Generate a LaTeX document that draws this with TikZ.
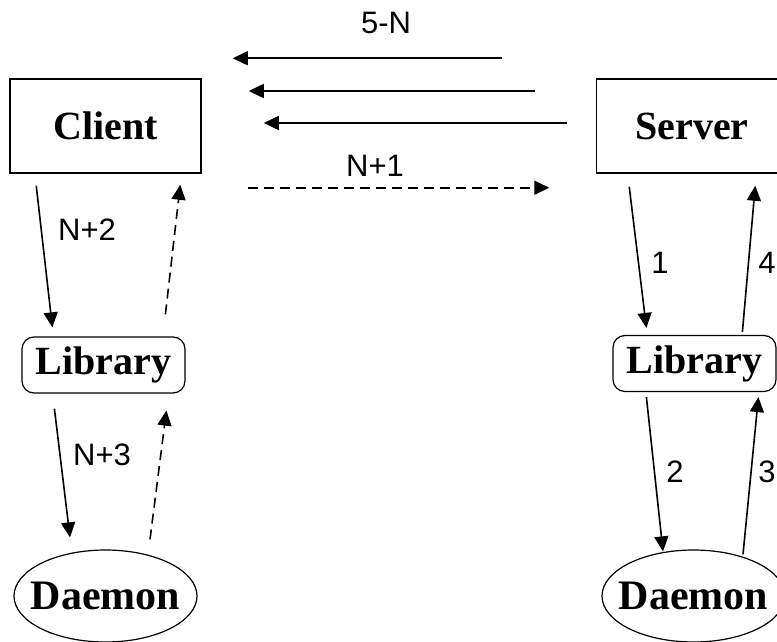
\documentclass[tikz,border=0pt]{standalone}
\usepackage{fontspec}
\setmainfont{Liberation Serif}
\newfontfamily\labelfont{Liberation Sans}
\usetikzlibrary{shapes.geometric,arrows.meta,calc}

\tikzset{
  box/.style={draw, line width=1.5pt, minimum width=191pt, minimum height=94pt,
    inner sep=0pt, font=\fontsize{40}{42}\selectfont\bfseries},
  libbox/.style={draw, line width=1.2pt, rounded corners=12pt, minimum width=163pt,
    minimum height=56pt, inner sep=0pt, font=\fontsize{40}{42}\selectfont\bfseries},
  daemonnode/.style={draw, ellipse, line width=1.2pt, minimum width=183pt,
    minimum height=92pt, inner sep=0pt, font=\fontsize{42}{44}\selectfont\bfseries},
  lbl/.style={inner sep=0pt, font=\labelfont\fontsize{31}{33}\selectfont},
  msg/.style={line width=1.6pt, -{Triangle[length=15pt,width=14pt]}},
  reply/.style={msg, dash pattern=on 10pt off 6pt}
}

\begin{document}
\begin{tikzpicture}[x=1pt, y=-1pt]
  \useasboundingbox (0,0) rectangle (777,642);
  \clip (0,0) rectangle (777,642);

  % client side
  \node[box] (client) at (105.5,126) {Client};
  \node[libbox] (libc) at (103.5,365) {Library};
  \node[daemonnode] (daemonc) at (105.5,596) {\makebox[0pt]{Daemon}};

  % server side
  \node[box] (server) at (692,126) {Server};
  \node[libbox] (libs) at (694.5,363.5) {Library};
  \node[daemonnode] (daemons) at (693.5,596) {\makebox[0pt]{Daemon}};

  % labels
  \node[lbl] (l5n) at (386,23) {5-N};
  \node[lbl] (ln1) at (375,166) {N+1};
  \node[lbl] (ln2) at (87,230) {N+2};
  \node[lbl] (ln3) at (102,455) {N+3};
  \node[lbl] (l1) at (660,263) {1};
  \node[lbl] (l4) at (767,263) {4};
  \node[lbl] (l2) at (675,472) {2};
  \node[lbl] (l3) at (767,472) {3};

  % responses from server to client
  \draw[msg] ($(server.north west)+(-93.5,-20)$) -- ($(client.north east)+(31,-20)$);
  \draw[msg] ($(server.west)+(-60.5,-35)$) -- ($(client.east)+(47,-35)$);
  \draw[msg] ($(server.west)+(-28.5,-3)$) -- ($(client.east)+(62,-3)$);
  % request from client to server
  \draw[reply] ($(client.south east)+(46,14)$) -- ($(server.south west)+(-46.5,14)$);

  % client chain
  \draw[msg] ($(client.south west)+(27,12)$) -- ($(libc.north west)+(31,-9)$);
  \draw[reply] ($(libc.north west)+(144,-22)$) -- ($(client.south west)+(171,11)$);
  \draw[msg] ($(libc.south west)+(33,15)$) -- ($(daemonc.north)+(-35.5,-12)$);
  \draw[reply] ($(daemonc.north)+(44.5,-10)$) -- ($(libc.south west)+(145,17)$);

  % server chain
  \draw[msg] ($(server.south west)+(33.5,13)$) -- ($(libs.north west)+(34,-7)$);
  \draw[msg] ($(libs.north west)+(130,-3)$) -- ($(server.south west)+(159.5,12)$);
  \draw[msg] ($(libs.south west)+(34,5)$) -- ($(daemons.north)+(-30.5,2)$);
  \draw[msg] ($(daemons.north)+(49.5,5)$) -- ($(libs.south west)+(146,5)$);
\end{tikzpicture}
\end{document}
